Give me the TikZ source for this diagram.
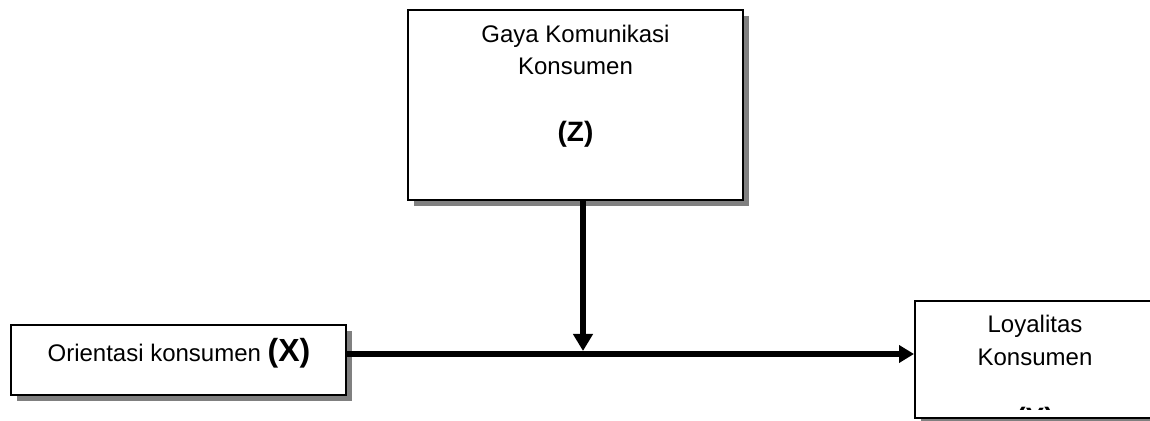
\documentclass[tikz,border=0pt]{standalone}
\usepackage{fontspec}
\setmainfont{Liberation Sans}
\usetikzlibrary{arrows.meta,shadows}

\tikzset{
  varbox/.style={draw=black, line width=1pt, fill=white, inner sep=0pt,
    drop shadow={shadow xshift=3pt, shadow yshift=-3pt, fill=black!50, opacity=1}},
  txt/.style={anchor=base, inner sep=0pt, font=\fontsize{12}{14}\selectfont},
  tag/.style={anchor=base, inner sep=0pt, font=\fontsize{14}{16}\selectfont\bfseries},
  flow/.style={line width=3pt},
}

\begin{document}
\begin{tikzpicture}[x=0.5pt, y=-0.5pt]
  \useasboundingbox (0,0) rectangle (1150,421);
  \clip (0,0) rectangle (1150,421);

  % moderator box
  \node[varbox, minimum width=167.5pt, minimum height=95pt] (z) at (575.5,105.5) {};
  \node[txt] (z1) at (575.5,43) {Gaya Komunikasi};
  \node[txt] (z2) at (575.5,75) {Konsumen};
  \node[tag] (z3) at (575.5,142) {(Z)};

  % independent variable
  \node[varbox, minimum width=167.5pt, minimum height=35pt] (x) at (178.5,360) {};
  \node[txt] (x1) at (179,362) {Orientasi konsumen \fontsize{16}{18}\selectfont\bfseries (X)};

  % dependent variable (its right side runs well past the edge of the page)
  \node[varbox, minimum width=200pt, minimum height=58.5pt] (y) at (1115,359.5) {};
  \node[txt] (y1) at (1035,333) {Loyalitas};
  \node[txt] (y2) at (1035,366) {Konsumen};
  \begin{scope}
    \clip (915,301) rectangle (1300,410);
    \node[tag] (y3) at (1035,428) {(Y)};
  \end{scope}

  % connectors
  \coordinate (h) at (0,354);
  \coordinate (m) at (583,351);
  \draw[flow, -{Triangle[length=7.5pt, width=8.5pt]}] (x.east |- h) -- (y.west |- h);
  \draw[flow, -{Triangle[length=8.5pt, width=9.5pt]}] (m |- z.south) -- (m);
\end{tikzpicture}
\end{document}
